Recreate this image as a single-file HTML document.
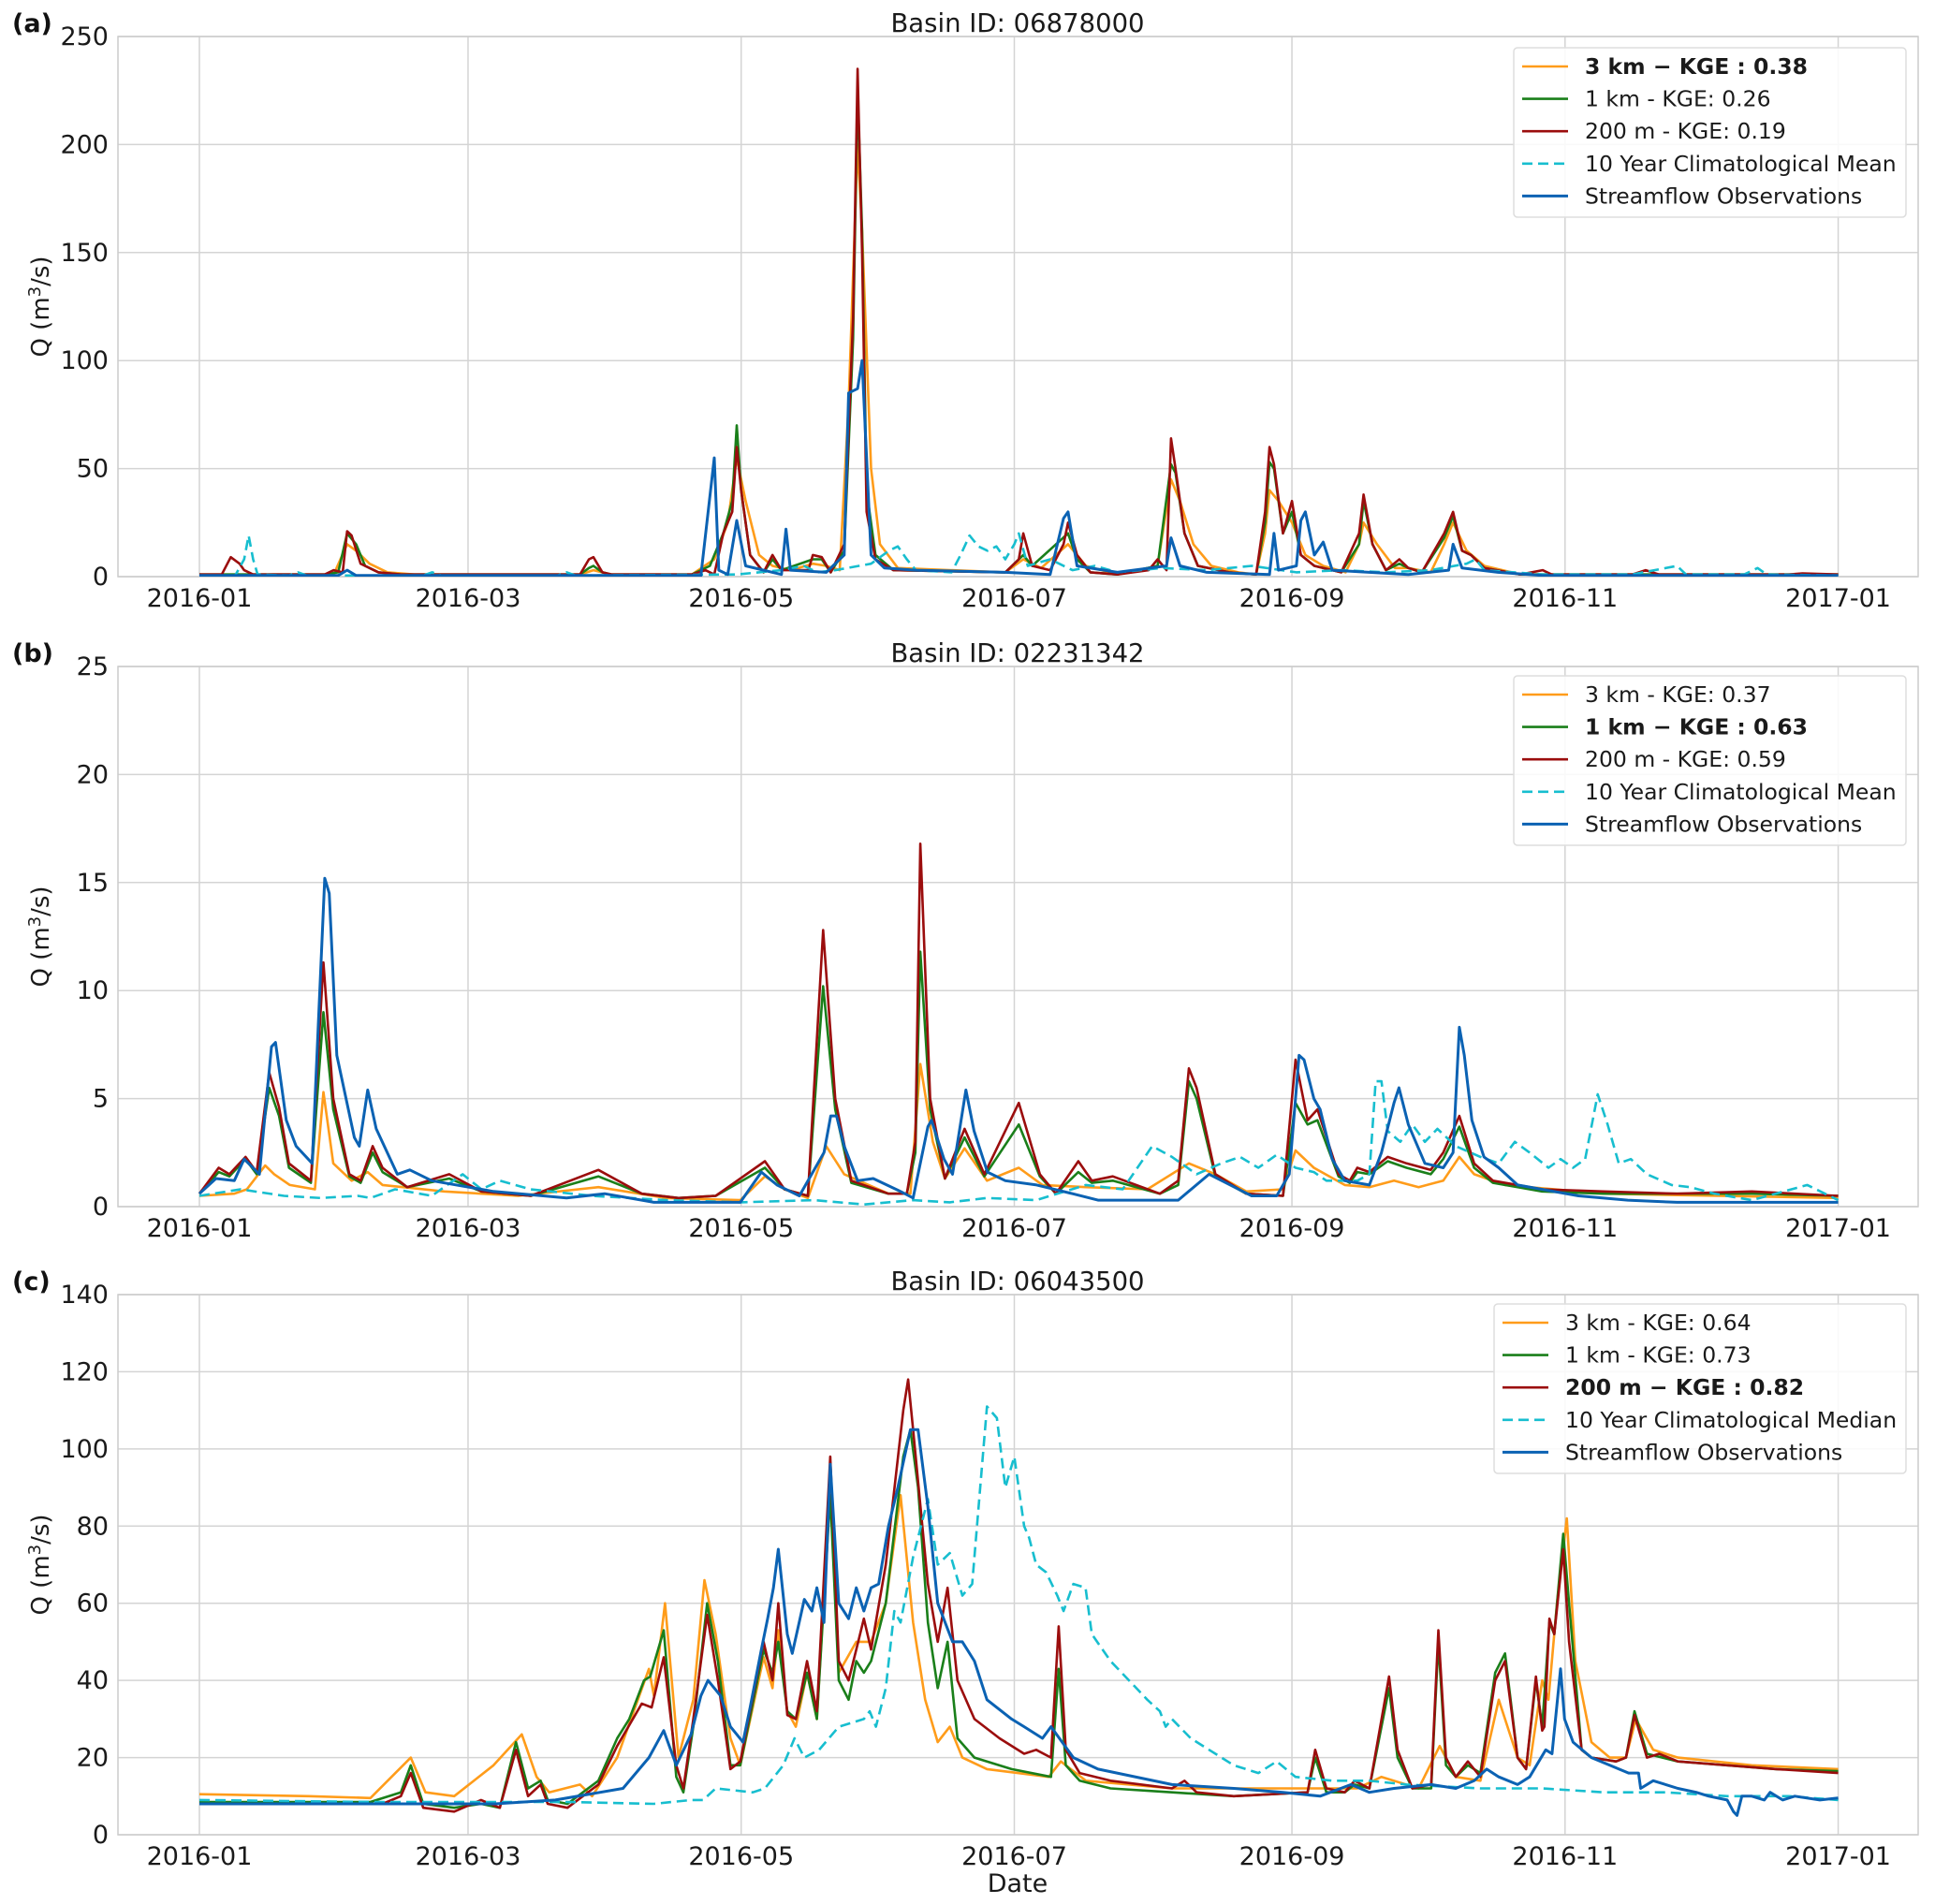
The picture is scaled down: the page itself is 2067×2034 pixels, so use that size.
<!DOCTYPE html>
<html><head><meta charset="utf-8">
<style>
html,body{margin:0;padding:0;background:#fff;}
svg{display:block;font-family:"DejaVu Sans","Liberation Sans",sans-serif;}
</style></head>
<body>
<svg id="fig" width="2067" height="2034" viewBox="0 0 2067 2034" xmlns="http://www.w3.org/2000/svg"></svg>
<script>
// ---------- data: [day-of-year 2016, discharge m3/s] ----------
const tickLabels = ["2016-01","2016-03","2016-05","2016-07","2016-09","2016-11","2017-01"];
const tickDays = [0,60,121,182,244,305,366];

const aOrange=[[0,1],[30,1],[33,15],[35,12],[38,6],[42,2],[48,1],[85,1],[88,3],[92,1],[110,1],[115,8],[118,25],[120,55],[122,35],[125,10],[128,5],[132,3],[137,6],[140,5],[143,3],[145,80],[147,200],[148,160],[150,50],[152,15],[156,4],[180,2],[184,8],[188,4],[194,15],[198,5],[205,1],[214,5],[217,45],[219,35],[222,15],[226,5],[232,2],[236,1],[238,20],[239,40],[241,35],[244,25],[247,10],[251,5],[256,2],[259,15],[260,25],[263,15],[267,4],[270,4],[275,2],[278,15],[280,25],[283,12],[287,5],[295,1],[366,1]];
const aGreen=[[0,1],[28,1],[31,2],[33,20],[35,15],[37,5],[40,2],[45,1],[85,1],[87,4],[88,5],[90,2],[92,1],[110,1],[114,5],[117,20],[119,35],[120,70],[121,40],[123,10],[126,2],[128,8],[130,3],[137,8],[139,8],[141,2],[144,12],[146,110],[147,225],[148,160],[149,40],[151,10],[155,3],[180,2],[184,10],[186,5],[194,20],[196,8],[199,2],[205,1],[214,5],[217,52],[218,48],[220,20],[223,5],[230,2],[236,1],[238,25],[239,53],[240,50],[242,20],[244,30],[246,10],[249,5],[255,2],[259,15],[260,35],[262,15],[265,3],[268,6],[270,4],[273,2],[278,18],[280,28],[282,12],[284,10],[287,4],[295,1],[366,1]];
const aRed=[[0,1],[5,1],[7,9],[9,6],[10,3],[12,1],[28,1],[30,3],[32,2],[33,21],[34,19],[36,6],[40,2],[45,1],[85,1],[87,8],[88,9],[90,2],[92,1],[110,1],[113,3],[115,1],[117,20],[119,30],[120,60],[121,40],[123,10],[126,2],[128,10],[130,3],[136,3],[137,10],[139,9],[141,2],[144,15],[146,120],[147,235],[148,150],[149,30],[151,8],[155,3],[180,2],[183,8],[184,20],[186,5],[190,3],[193,15],[194,25],[196,10],[199,2],[205,1],[212,3],[214,8],[216,3],[217,64],[218,50],[220,20],[223,5],[230,2],[236,1],[238,30],[239,60],[240,52],[242,20],[244,35],[246,10],[249,5],[255,2],[259,20],[260,38],[262,15],[265,3],[268,8],[270,4],[273,2],[278,20],[280,30],[282,12],[284,10],[287,4],[295,1],[300,3],[302,1],[320,1],[323,3],[326,1],[355,1],[358,1.5],[366,1]];
const aClim=[[0,0.5],[8,0.5],[10,8],[11,19],[12,8],[13,1],[20,0.5],[22,2],[24,0.5],[50,0.5],[52,2],[54,0.5],[80,0.5],[82,2],[84,0.5],[120,1],[130,3],[135,5],[138,2],[142,3],[150,6],[154,12],[156,14],[158,8],[160,3],[168,2],[170,10],[172,19],[174,14],[176,12],[178,14],[180,8],[182,15],[183,20],[185,5],[190,8],[195,3],[200,5],[205,2],[215,4],[225,3],[235,5],[245,2],[255,3],[265,2],[275,3],[283,6],[285,8],[287,3],[300,1],[320,1],[330,5],[332,1],[345,1],[348,4],[350,1],[366,0.5]];
const aObs=[[0,0.5],[31,0.5],[33,3],[35,0.5],[112,0.5],[115,55],[116,3],[118,1],[120,26],[122,5],[128,2],[130,1],[131,22],[132,3],[140,2],[144,10],[145,85],[147,87],[148,100],[150,10],[153,4],[160,3],[180,2],[190,1],[193,27],[194,30],[196,5],[205,2],[216,5],[217,18],[219,5],[225,2],[239,1],[240,20],[241,3],[245,5],[246,26],[247,30],[249,10],[251,16],[253,3],[270,1],[279,3],[280,15],[282,4],[290,2],[300,0.5],[366,0.5]];

const bOrange=[[0,0.5],[7.8,0.6],[10.6,0.8],[14.7,1.9],[16.7,1.5],[20.2,1],[25.8,0.8],[27.7,5.3],[29.9,2],[34,1.2],[37.6,1.6],[40.9,1.0],[54.7,0.7],[71.2,0.5],[89.1,0.9],[104.3,0.4],[120.8,0.3],[126.3,1.4],[130.7,0.8],[135.9,0.4],[140,2.8],[144,1.5],[153.9,0.6],[158.8,0.6],[161,6.6],[163.8,3],[166.5,1.3],[170.9,2.7],[175.9,1.2],[183,1.8],[188.3,1.0],[198,0.9],[211.7,0.8],[221,2.0],[226.9,1.5],[233.8,0.7],[242,0.8],[244.8,2.6],[248.9,1.8],[255.8,1.0],[261.3,0.9],[266.8,1.2],[272.3,0.9],[277.8,1.2],[281.4,2.3],[284.7,1.5],[291.6,1.0],[313.7,0.6],[366,0.4]];
const bGreen=[[0,0.6],[4.3,1.6],[6.7,1.4],[10.3,2.2],[12.8,1.5],[15.6,5.5],[17.8,4.2],[20,1.8],[24.9,1.1],[27.7,9],[29.9,4.5],[33.5,1.4],[36,1.1],[38.7,2.5],[40.9,1.6],[46.4,0.9],[55.8,1.3],[63,0.7],[74,0.5],[89.1,1.4],[98.8,0.6],[107,0.4],[115.3,0.5],[126.3,1.8],[130.7,0.8],[135.9,0.5],[139.3,10.2],[142,4.5],[145.6,1.1],[153.9,0.6],[158,0.6],[159.9,2.5],[161,11.8],[163.2,4.5],[166.5,1.3],[170.9,3.2],[175.3,1.4],[183,3.8],[187.7,1.4],[191.3,0.6],[196.3,1.6],[199.3,1.1],[204,1.2],[214.5,0.6],[218.6,1.0],[221,5.8],[222.7,5.0],[226.9,1.4],[233.8,0.6],[242,0.5],[244.8,4.8],[247.5,3.8],[249.7,4.0],[254.4,1.4],[256.9,1.1],[258.6,1.6],[261.3,1.5],[265.4,2.1],[269.6,1.8],[275,1.5],[277.8,2.2],[281.4,3.7],[284.7,1.8],[288.9,1.1],[299.9,0.7],[313.7,0.6],[330,0.6],[346.7,0.6],[366,0.5]];
const bRed=[[0,0.6],[4.3,1.8],[6.7,1.5],[10.3,2.3],[12.8,1.6],[15.6,6.2],[17.8,4.6],[20,2],[24.9,1.2],[27.7,11.3],[29.9,5],[33.5,1.5],[36,1.2],[38.7,2.8],[40.9,1.8],[46.4,0.9],[55.8,1.5],[63,0.7],[74,0.5],[89.1,1.7],[98.8,0.6],[107,0.4],[115.3,0.5],[126.3,2.1],[130.7,0.8],[135.9,0.5],[139.3,12.8],[142,5],[145.6,1.2],[153.9,0.6],[158,0.6],[159.9,3],[161,16.8],[163.2,5],[166.5,1.3],[170.9,3.6],[175.3,1.5],[183,4.8],[187.7,1.5],[191.3,0.6],[196.3,2.1],[199.3,1.2],[204,1.4],[214.5,0.6],[218.6,1.2],[221,6.4],[222.7,5.5],[226.9,1.5],[233.8,0.6],[242,0.5],[244.8,6.8],[247.5,4],[249.7,4.5],[254.4,1.5],[256.9,1.2],[258.6,1.8],[261.3,1.6],[265.4,2.3],[269.6,2.0],[275,1.7],[277.8,2.5],[281.4,4.2],[284.7,2],[288.9,1.2],[299.9,0.8],[313.7,0.7],[330,0.6],[346.7,0.7],[366,0.5]];
const bClim=[[0,0.5],[9.2,0.8],[18.9,0.5],[27.1,0.4],[35.4,0.5],[38.2,0.4],[43.7,0.8],[51.9,0.5],[58.8,1.5],[63,0.8],[67.1,1.2],[74,0.8],[87.7,0.5],[104.3,0.3],[120.8,0.2],[137.3,0.3],[148.4,0.1],[159.4,0.3],[167.6,0.2],[175.9,0.4],[186.9,0.3],[198,1.0],[206.2,0.8],[212.8,2.8],[217.2,2.3],[222.7,1.5],[228.2,2.0],[232.4,2.3],[236.5,1.8],[240.6,2.4],[244.8,1.8],[248.9,1.6],[251.7,1.2],[258.6,1.2],[261.3,1.5],[262.7,5.8],[264,5.8],[265.4,3.5],[268.2,3.0],[270.9,3.8],[273.7,3.0],[276.5,3.6],[280.6,2.8],[286.1,2.3],[290.2,2.0],[293.8,3.0],[297.1,2.5],[301.3,1.8],[304,2.2],[306.8,1.8],[309.5,2.2],[312.3,5.2],[314.5,3.8],[317,2.0],[319.7,2.2],[323.3,1.5],[328.8,1.0],[332.9,0.9],[338.4,0.6],[346.7,0.3],[359.1,1.0],[366,0.3]];
const bObs=[[0,0.6],[3.7,1.3],[7.8,1.2],[10,2.2],[13.4,1.5],[16.1,7.4],[17,7.6],[19.4,4],[21.6,2.8],[25.2,2.0],[28,15.2],[29,14.5],[30.7,7],[34.6,3.2],[35.7,2.8],[37.6,5.4],[39.5,3.6],[44.2,1.5],[47,1.7],[51.9,1.2],[65.7,0.7],[82,0.4],[90.5,0.6],[101.5,0.2],[120.8,0.2],[125.5,1.6],[129,1],[134,0.5],[139.5,2.5],[141,4.2],[142.3,4.2],[144,2.8],[147,1.2],[150.5,1.3],[156.6,0.7],[159.4,0.4],[162.7,3.7],[163.5,4],[166.3,2.2],[168.2,1.5],[171.2,5.4],[173,3.5],[176,1.6],[180,1.2],[187,1.0],[195,0.6],[200.7,0.3],[218.6,0.3],[225.5,1.5],[235,0.5],[240.6,0.5],[243.4,1.5],[245.6,7],[246.7,6.8],[248.9,5],[250.3,4.5],[253,2.2],[255.8,1.2],[261.3,1.0],[264,2.5],[266.8,4.8],[267.9,5.5],[270,3.8],[273.7,2.0],[277.8,1.8],[280,2.5],[281.4,8.3],[282.5,7],[284.2,4],[286.9,2.3],[290.2,1.8],[294.4,1.0],[308,0.5],[319,0.3],[330,0.2],[366,0.2]];

const cOrange=[[0,10.5],[24.4,10],[38.2,9.5],[47.2,20],[50.5,11],[56.9,10],[65.7,18],[72,26],[75.3,15],[78.1,11],[85,13],[87.7,10],[93.3,20],[100.4,43],[101.5,36],[104,60],[107,20],[110.3,35],[112.8,66],[115.3,52],[118.6,25],[120.8,18],[126,46],[128,38],[129.3,53],[131.3,32],[133.2,28],[135.7,42],[137.9,30],[140.9,90],[142.8,42],[146.7,50],[150,50],[153.3,60],[156.6,88],[159.4,55],[162.1,35],[164.9,24],[167.6,28],[170.4,20],[175.9,17],[189.7,15],[192.4,19],[198,14],[217.2,12],[244.8,12],[258.6,12],[264,15],[272.3,12],[277,23],[280.6,15],[286.1,14],[290.2,35],[294.4,20],[297.1,18],[299.9,40],[301.3,35],[303.2,60],[305.4,82],[307.3,45],[310.9,24],[315,20],[318.6,20],[320.8,30],[324.7,22],[330.2,20],[346.7,18],[366,17]];
const cGreen=[[0,8.5],[38.2,8.5],[45,11],[47.2,18],[50,8],[56.9,7],[62.9,8],[67.1,7],[70.7,24],[73.4,12],[76.2,14],[77.8,9],[82.2,8],[89.1,14],[93.3,25],[96,30],[99.3,40],[100.7,41],[103.7,53],[106.5,15],[108.1,11],[110.3,28],[113.4,60],[115.8,45],[118.6,18],[120.8,18],[126,48],[128,42],[129.3,50],[131.3,32],[133.2,30],[135.7,42],[137.9,30],[140.9,88],[142.8,40],[145,35],[146.7,45],[148.4,42],[150,45],[153.3,60],[157.2,98],[158.8,105],[160.5,90],[162.7,55],[164.9,38],[167.1,50],[169.3,25],[173.1,20],[181.4,17],[190.2,15],[191.9,43],[193.5,18],[196.6,14],[203.5,12],[217.2,11],[231,10],[247.5,11],[249.2,20],[251.7,11],[255.8,11],[258,13],[261.3,12],[265.7,38],[267.6,20],[270.9,12],[275.1,12],[276.7,50],[278.4,18],[280.6,15],[283.3,18],[286.1,16],[289.4,42],[291.6,47],[294.4,20],[296.3,17],[298.5,40],[299.9,28],[301.5,55],[302.6,52],[304.6,78],[305.9,60],[308.7,22],[310.9,20],[316.4,19],[318.6,20],[320.5,32],[323.3,21],[330.2,19],[341.2,18],[352.2,17],[366,16.5]];
const cRed=[[0,8],[38.2,8],[40.9,8],[45,10],[47.2,16],[50,7],[56.9,6],[62.9,9],[67.1,7],[70.7,22],[73.4,10],[76.2,13],[77.8,8],[82.2,7],[89.1,13],[93.3,23],[98.8,34],[101,33],[103.7,46],[106.5,18],[108.1,12],[110.3,30],[113.4,57],[115.8,40],[118.6,17],[120.8,19],[126,50],[128,40],[129.3,60],[131.3,31],[133.2,30],[135.7,45],[137.9,32],[140.9,98],[142.8,45],[145,40],[146.7,48],[148.4,56],[150,48],[153.3,70],[157.2,110],[158.3,118],[159.4,105],[162.7,65],[164.9,50],[167.1,64],[169.3,40],[173.1,30],[178.7,25],[184.2,21],[186.9,22],[190.2,20],[191.9,54],[193.5,22],[196.6,16],[203.5,14],[217.2,12],[220,14],[222.7,11],[231,10],[247.5,11],[249.2,22],[251.7,12],[255.8,11],[258,14],[261.3,12],[265.7,41],[267.6,22],[270.9,12],[275.1,13],[276.7,53],[278.4,20],[280.6,15],[283.3,19],[286.1,15],[289.4,40],[291.6,45],[294.4,20],[296.3,17],[298.5,41],[299.9,27],[300.4,28],[301.5,56],[302.6,52],[304.6,74],[305.9,50],[308.7,22],[310.9,20],[316.4,19],[318.6,20],[320.5,31],[323.3,20],[326,21],[330.2,19],[341.2,18],[352.2,17],[366,16]];
const cClim=[[0,9],[38.2,8.5],[82.2,8.5],[101.5,8],[109.8,9],[112.5,9],[115.3,12],[123.6,11],[126.3,12],[130.4,18],[132.9,25],[135.1,20],[138.4,22],[142.8,28],[148.4,30],[149.7,32],[151.1,28],[153.3,38],[155.2,58],[156.6,55],[159.4,72],[162.7,87],[164.9,70],[167.6,73],[170.4,62],[172.6,65],[175.1,100],[175.9,111],[178.1,108],[180,90],[182,98],[184.2,80],[185.3,77],[186.9,70],[189.1,68],[191.6,62],[193,58],[195.2,65],[197.9,64],[199.3,52],[203.5,45],[207.6,40],[211.7,35],[214.5,32],[215.8,28],[217.2,30],[221.4,25],[225.5,22],[231,18],[236.5,16],[240.6,19],[244.8,15],[253,14],[261.3,14],[269.6,13],[286.1,12],[299.9,12],[313.7,11],[327.4,11],[341.2,10],[355,10],[366,9]];
const cObs=[[0,8],[38,8],[66,8],[79.5,9],[94.6,12],[100.4,20],[103.7,27],[106.5,18],[109.8,26],[112,36],[113.6,40],[116.4,36],[118.6,28],[121.4,24],[123,33],[125.5,48],[126.9,56],[128.2,64],[129.3,74],[131.3,52],[132.4,47],[135.1,61],[136.8,58],[137.9,64],[139.5,55],[140.9,96],[142.8,60],[145,56],[146.7,64],[148.4,58],[150,64],[151.7,65],[153.9,80],[156,90],[158.8,105],[160.5,105],[162.7,85],[164.9,60],[168.2,50],[170.4,50],[173.1,45],[175.9,35],[181.4,30],[184.2,28],[188.3,25],[190.2,28],[195.2,20],[200.7,17],[217.2,13],[231,12],[242,11],[250.3,10],[257.2,13],[261.3,11],[266.8,12],[275.1,13],[280.6,12],[284.7,14],[287.5,17],[290.2,15],[294.4,13],[297.1,15],[300.7,22],[302.1,21],[304,43],[304.9,30],[306.8,24],[310.9,20],[315,18],[319.2,16],[321.4,16],[321.9,12],[324.7,14],[330.2,12],[334.3,11],[337.1,10],[341.2,9],[342.6,6],[343.4,5],[344.5,10],[346.7,10],[349.5,9],[350.8,11],[353.6,9],[356.3,10],[361.9,9],[366,9.5]];

const panels=[
 {id:"a",title:"Basin ID: 06878000",top:39,bottom:616,ymax:250,ystep:50,series:[aOrange,aGreen,aRed,aClim,aObs],
  legend:["3 km \u2212 KGE : 0.38","1 km - KGE: 0.26","200 m - KGE: 0.19","10 Year Climatological Mean","Streamflow Observations"],bold:0,
  lg:{x:1617,y:51,w:419,h:181}},
 {id:"b",title:"Basin ID: 02231342",top:712,bottom:1289,ymax:25,ystep:5,series:[bOrange,bGreen,bRed,bClim,bObs],
  legend:["3 km - KGE: 0.37","1 km \u2212 KGE : 0.63","200 m - KGE: 0.59","10 Year Climatological Mean","Streamflow Observations"],bold:1,
  lg:{x:1617,y:722,w:419,h:181}},
 {id:"c",title:"Basin ID: 06043500",top:1383,bottom:1960,ymax:140,ystep:20,series:[cOrange,cGreen,cRed,cClim,cObs],
  legend:["3 km - KGE: 0.64","1 km - KGE: 0.73","200 m \u2212 KGE : 0.82","10 Year Climatological Median","Streamflow Observations"],bold:2,
  lg:{x:1596,y:1393,w:440,h:181}}
];
const colors=["#ff9c1a","#1a7f1a","#9b0d0d","#17becf","#0b62b3"];
const seriesNames=["3km-model","1km-model","200m-model","climatology","observations"];

const NS="http://www.w3.org/2000/svg";
const svg=document.getElementById('fig');
const L=126,R=2049,X0=213,PXD=4.783;
function xs(d){return X0+d*PXD;}
function mk(tag,attrs,parent){const e=document.createElementNS(NS,tag);for(const k in attrs)e.setAttribute(k,attrs[k]);(parent||svg).appendChild(e);return e;}

panels.forEach((p,pi)=>{
  const g=mk('g',{});
  
  
  const ys=v=>p.bottom-(v/p.ymax)*(p.bottom-p.top);
  for(let v=0;v<=p.ymax;v+=p.ystep){
    const ln=mk('line',{x1:L,x2:R,y1:ys(v),y2:ys(v),stroke:'#d4d4d4','stroke-width':1.5},g);
    
    
    const t=mk('text',{x:116,y:ys(v)+9,'text-anchor':'end','font-size':27,fill:'#1a1a1a'},g);
    t.textContent=v;
    
    
  }
  tickDays.forEach((d,i)=>{
    const ln=mk('line',{x1:xs(d),x2:xs(d),y1:p.top,y2:p.bottom,stroke:'#d4d4d4','stroke-width':1.5},g);
    
    
    const t=mk('text',{x:xs(d),y:p.bottom+32,'text-anchor':'middle','font-size':27,fill:'#1a1a1a'},g);
    t.textContent=tickLabels[i];
    
    
  });
  const fr=mk('rect',{x:L,y:p.top,width:R-L,height:p.bottom-p.top,fill:'none',stroke:'#cccccc','stroke-width':1.5},g);
  
  
  const cp=mk('clipPath',{id:'clip'+p.id},g);
  mk('rect',{x:L,y:p.top,width:R-L,height:p.bottom-p.top},cp);
  const sg=mk('g',{'clip-path':'url(#clip'+p.id+')'},g);
  p.series.forEach((s,si)=>{
    const pts=s.map(q=>xs(q[0]).toFixed(1)+','+ys(q[1]).toFixed(1)).join(' ');
    const at={points:pts,fill:'none',stroke:colors[si],'stroke-width':si==4?3:2.6,'stroke-linejoin':'round'};
    if(si==3){at['stroke-dasharray']='11,6';}
    const pl=mk('polyline',at,sg);
    
    
  });
  const tt=mk('text',{x:1087,y:p.top-5,'text-anchor':'middle','font-size':27.5,fill:'#1a1a1a'},g);
  tt.textContent=p.title;
  
  
  const pl2=mk('text',{x:13,y:p.top-5,'font-size':27,'font-weight':'bold',fill:'#111'},g);
  pl2.textContent='('+p.id+')';
  
  
  const cy=(p.top+p.bottom)/2;
  const yl=mk('text',{x:0,y:0,transform:'translate(52,'+cy+') rotate(-90)','text-anchor':'middle','font-size':26,fill:'#1a1a1a'},g);
  yl.innerHTML='Q (m<tspan dy="-9" font-size="18">3</tspan><tspan dy="9">/s)</tspan>';
  
  
  const lg=mk('g',{},g);
  
  
  mk('rect',{x:p.lg.x,y:p.lg.y,width:p.lg.w,height:p.lg.h,rx:4,fill:'#fff','fill-opacity':0.85,stroke:'#dddddd','stroke-width':1.5},lg);
  p.legend.forEach((txt,i)=>{
    const yy=p.lg.y+20+i*34.6;
    const la={x1:p.lg.x+9,x2:p.lg.x+58,y1:yy,y2:yy,stroke:colors[i],'stroke-width':i==4?3:2.6};
    if(i==3)la['stroke-dasharray']='11,6';
    mk('line',la,lg);
    const t=mk('text',{x:p.lg.x+76,y:yy+8,'font-size':23.5,fill:'#1a1a1a','font-weight':i==p.bold?'bold':'normal'},lg);
    t.textContent=txt;
    
    
  });
});
const xl=mk('text',{x:1087,y:2021,'text-anchor':'middle','font-size':27,fill:'#1a1a1a'});
xl.textContent='Date';


</script>
</body></html>
